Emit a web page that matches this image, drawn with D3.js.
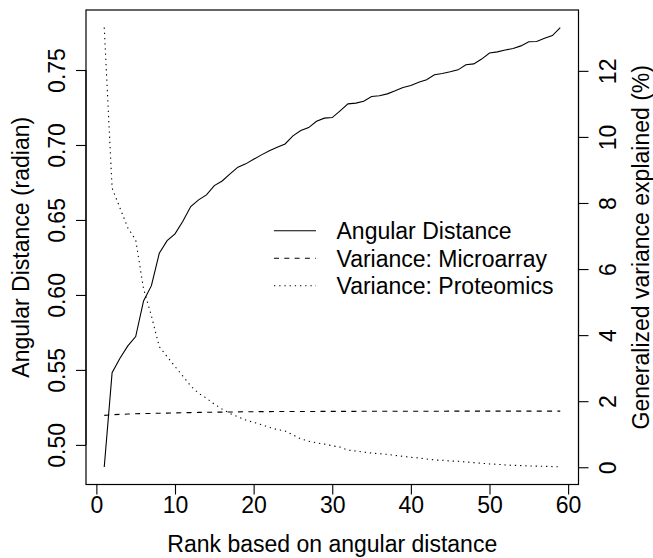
<!DOCTYPE html>
<html>
<head>
<meta charset="utf-8">
<script src="https://cdn.jsdelivr.net/npm/d3@7"></script>
<style>
  html, body { margin: 0; padding: 0; background: #fff; }
  svg text { font-family: "Liberation Sans", Arial, Helvetica, sans-serif; fill: #000; }
</style>
</head>
<body>
<svg id="chart" width="653" height="558"></svg>
<script>
// ---- data ----
const ranks = d3.range(1, 60);
const angularDistance = [0.4853,0.5481,0.5578,0.5660,0.5722,0.5960,0.6062,0.6278,0.6362,0.6407,
  0.6491,0.6589,0.6634,0.6667,0.6729,0.6760,0.6807,0.6852,0.6874,0.6905,
  0.6934,0.6961,0.6985,0.7007,0.7061,0.7096,0.7116,0.7158,0.7179,0.7183,
  0.7228,0.7274,0.7279,0.7292,0.7323,0.7328,0.7341,0.7361,0.7383,0.7397,
  0.7419,0.7435,0.7468,0.7477,0.7488,0.7501,0.7535,0.7541,0.7573,0.7613,
  0.7621,0.7633,0.7643,0.7661,0.7688,0.7690,0.7712,0.7730,0.7783];
const varianceMicroarray = [1.57,1.59,1.60,1.61,1.62,1.625,1.63,1.635,1.64,1.645,
  1.65,1.655,1.66,1.663,1.666,1.67,1.673,1.676,1.68,1.682,
  1.684,1.685,1.686,1.687,1.688,1.689,1.69,1.69,1.691,1.692,
  1.692,1.693,1.693,1.694,1.694,1.695,1.695,1.695,1.696,1.696,
  1.696,1.697,1.697,1.697,1.698,1.698,1.698,1.698,1.699,1.699,
  1.699,1.699,1.70,1.70,1.70,1.70,1.70,1.70,1.70];
const varianceProteomics = [13.31,8.45,7.85,7.25,6.88,5.40,4.58,3.65,3.35,3.05,
  2.76,2.46,2.24,2.09,1.91,1.76,1.63,1.53,1.43,1.36,
  1.29,1.21,1.14,1.10,0.98,0.86,0.79,0.74,0.70,0.65,
  0.61,0.52,0.49,0.46,0.43,0.41,0.39,0.36,0.33,0.30,
  0.28,0.25,0.22,0.21,0.19,0.18,0.16,0.14,0.12,0.10,
  0.09,0.07,0.06,0.05,0.04,0.035,0.03,0.02,0.01];
const xTicks = [0,10,20,30,40,50,60];
const leftTicks = [0.50,0.55,0.60,0.65,0.70,0.75];
const rightTicks = [0,2,4,6,8,10,12];
const legendLabels = ["Angular Distance","Variance: Microarray","Variance: Proteomics"];
const legendDash = [null, "5,5.3", "1.3,3.9"];

// ---- layout ----
const box = {left: 86, right: 578.5, top: 10, bottom: 484.5};
const fs = 23;
const ext = ([a,b]) => { const d = (b - a) * 0.04; return [a - d, b + d]; };

const svg = d3.select("#chart");
const x = d3.scaleLinear().domain(ext(d3.extent(ranks))).range([box.left, box.right]);
const yL = d3.scaleLinear().domain(ext(d3.extent(angularDistance))).range([box.bottom, box.top]);
const yR = d3.scaleLinear().domain(ext(d3.extent(varianceMicroarray.concat(varianceProteomics)))).range([box.bottom, box.top]);

// series
const series = [
  {vals: angularDistance, y: yL, dash: legendDash[0]},
  {vals: varianceMicroarray, y: yR, dash: legendDash[1]},
  {vals: varianceProteomics, y: yR, dash: legendDash[2]}
];
series.forEach(s => {
  const line = d3.line().x((d,i) => x(ranks[i])).y(d => s.y(d));
  svg.append("path").datum(s.vals).attr("d", line)
    .attr("fill","none").attr("stroke","#000").attr("stroke-width",1.1)
    .attr("stroke-dasharray", s.dash);
});

// box
svg.append("rect").attr("x", box.left).attr("y", box.top)
  .attr("width", box.right - box.left).attr("height", box.bottom - box.top)
  .attr("fill","none").attr("stroke","#000").attr("stroke-width",1.2);

// axes
const tickLen = 10;
const xAxis = d3.axisBottom(x).tickValues(xTicks).tickSize(tickLen).tickPadding(4).tickFormat(d3.format("d"));
const gx = svg.append("g").attr("transform", `translate(0,${box.bottom})`).call(xAxis);
gx.select(".domain").attr("d", `M${x(0)},0H${x(60)}`);
gx.selectAll("text").attr("font-size", fs).attr("font-family", null).attr("dy", "0.71em").attr("y", 12);

const lAxis = d3.axisLeft(yL).tickValues(leftTicks).tickSize(tickLen).tickFormat(d3.format(".2f"));
const gl = svg.append("g").attr("transform", `translate(${box.left},0)`).call(lAxis);
gl.select(".domain").attr("d", `M0,${yL(0.50)}V${yL(0.75)}`);
gl.selectAll(".tick text").attr("font-size", fs).attr("font-family", null)
  .attr("x", null).attr("dy", null).attr("text-anchor","middle")
  .attr("transform", "translate(-21,0) rotate(-90)");

const rAxis = d3.axisRight(yR).tickValues(rightTicks).tickSize(tickLen).tickFormat(d3.format("d"));
const gr = svg.append("g").attr("transform", `translate(${box.right},0)`).call(rAxis);
gr.select(".domain").attr("d", `M0,${yR(0)}V${yR(12)}`);
gr.selectAll(".tick text").attr("font-size", fs).attr("font-family", null)
  .attr("x", null).attr("dy", null).attr("text-anchor","middle")
  .attr("transform", "translate(37,0) rotate(-90)");

svg.selectAll(".domain, .tick line").attr("stroke","#000").attr("stroke-width",1.1);

// axis titles
const cy = (box.top + box.bottom) / 2;
svg.append("text").attr("x", (box.left + box.right) / 2).attr("y", 552)
  .attr("text-anchor","middle").attr("font-size", fs).text("Rank based on angular distance");
svg.append("text").attr("transform", `translate(29,${cy}) rotate(-90)`)
  .attr("text-anchor","middle").attr("font-size", fs).text("Angular Distance (radian)");
svg.append("text").attr("transform", `translate(649,${cy}) rotate(-90)`)
  .attr("text-anchor","middle").attr("font-size", fs).text("Generalized variance explained (%)");

// legend
const legY = [230.7, 258.3, 285.7];
legendLabels.forEach((lab, i) => {
  svg.append("line").attr("x1", 274).attr("x2", 316).attr("y1", legY[i]).attr("y2", legY[i])
    .attr("stroke","#000").attr("stroke-width",1.1).attr("stroke-dasharray", legendDash[i]);
  svg.append("text").attr("x", 336.5).attr("y", legY[i]).attr("dy","0.36em")
    .attr("font-size", fs).text(lab);
});
</script>
</body>
</html>
